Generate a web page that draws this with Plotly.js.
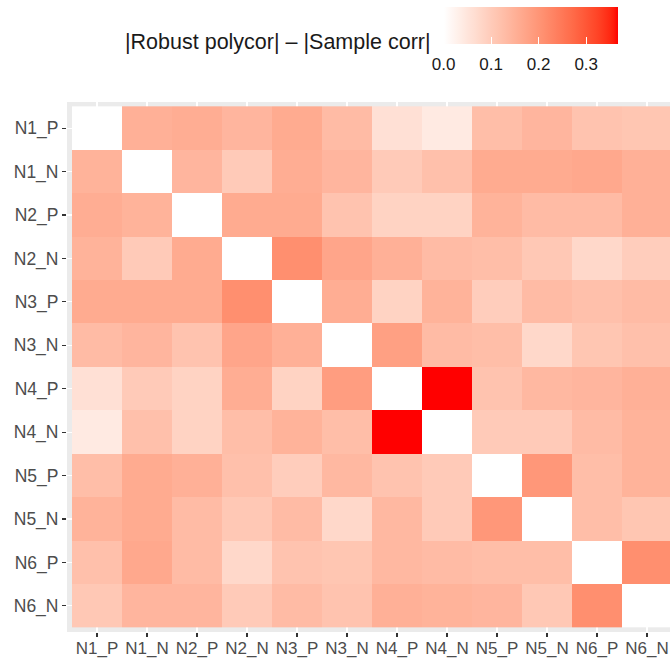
<!DOCTYPE html>
<html>
<head>
<meta charset="utf-8">
<script src="https://cdn.plot.ly/plotly-3.0.1.min.js"></script>
<style>html,body{margin:0;padding:0;background:#fff;}</style>
</head>
<body>
<div id="chart" style="width:670px;height:660px;"></div>
<script>
const labels = ["N1_P","N1_N","N2_P","N2_N","N3_P","N3_N","N4_P","N4_N","N5_P","N5_N","N6_P","N6_N"];
const colorbarTicks = [0.0, 0.1, 0.2, 0.3];
const colorbarTickText = ["0.0", "0.1", "0.2", "0.3"];
const legendTitle = "|Robust polycor| \u2013 |Sample corr|";

const rowN1_P = [0, .15, .155, .14, .16, .13, .06, .04, .125, .14, .115, .11];
const rowN1_N = [.145, 0, .14, .10, .155, .14, .10, .12, .16, .16, .165, .15];
const rowN2_P = [.155, .145, 0, .16, .16, .115, .085, .085, .145, .13, .13, .15];
const rowN2_N = [.145, .10, .16, 0, .21, .17, .15, .13, .125, .105, .075, .095];
const rowN3_P = [.16, .16, .16, .21, 0, .155, .085, .145, .095, .13, .12, .13];
const rowN3_N = [.13, .14, .115, .17, .15, 0, .18, .13, .125, .075, .11, .12];
const rowN4_P = [.06, .10, .085, .155, .085, .185, 0, .366, .115, .135, .14, .15];
const rowN4_N = [.04, .12, .085, .125, .145, .125, .366, 0, .10, .10, .13, .145];
const rowN5_P = [.125, .16, .15, .12, .095, .135, .115, .10, 0, .195, .125, .145];
const rowN5_N = [.145, .16, .13, .105, .13, .075, .135, .10, .195, 0, .125, .11];
const rowN6_P = [.12, .165, .13, .075, .115, .11, .135, .13, .125, .125, 0, .21];
const rowN6_N = [.105, .14, .14, .10, .13, .115, .15, .145, .14, .105, .21, 0];

const z = [rowN1_P,rowN1_N,rowN2_P,rowN2_N,rowN3_P,rowN3_N,rowN4_P,rowN4_N,rowN5_P,rowN5_N,rowN6_P,rowN6_N];
const zmax = Math.max(...z.map(r => Math.max(...r)));

// white -> red gradient interpolated in CIE Lab (like ggplot2 scale_fill_gradient)
function lab2rgb(L, a, b) {
  const fy = (L + 16) / 116, fx = fy + a / 500, fz = fy - b / 200;
  const finv = t => (t > 6/29 ? t*t*t : 3*(6/29)*(6/29)*(t - 4/29));
  const X = 0.95047 * finv(fx), Y = 1.0 * finv(fy), Zc = 1.08883 * finv(fz);
  let r = 3.2406*X - 1.5372*Y - 0.4986*Zc;
  let g = -0.9689*X + 1.8758*Y + 0.0415*Zc;
  let bl = 0.0557*X - 0.2040*Y + 1.0570*Zc;
  const gam = c => { c = Math.max(0, Math.min(1, c)); return c <= 0.0031308 ? 12.92*c : 1.055*Math.pow(c, 1/2.4) - 0.055; };
  return [gam(r), gam(g), gam(bl)].map(c => Math.round(c*255));
}
const low = [100, 0, 0], high = [53.24, 80.09, 67.20];
const colorscale = [];
for (let i = 0; i <= 40; i++) {
  const t = i / 40;
  const rgb = lab2rgb(low[0] + (high[0]-low[0])*t, low[1] + (high[1]-low[1])*t, low[2] + (high[2]-low[2])*t);
  colorscale.push([t, `rgb(${rgb[0]},${rgb[1]},${rgb[2]})`]);
}

const W = 670, H = 660;
const mL = 67, mR = 0, mT = 102, mB = 28;
const pw = W - mL - mR, ph = H - mT - mB;
const FONT = 'Liberation Sans, Arial, sans-serif';

const cbBase = {
  orientation: 'h',
  thickness: 37, thicknessmode: 'pixels',
  len: 174, lenmode: 'pixels',
  x: (443.6 - mL) / pw, xanchor: 'left',
  y: (mT + ph - 6.5) / ph, yanchor: 'top',
  xpad: 0, ypad: 0,
  outlinewidth: 0,
  tickmode: 'array', tickvals: colorbarTicks, ticktext: colorbarTickText,
  tickfont: {family: FONT, size: 17, color: '#1A1A1A'}
};

// main heatmap; its colorbar carries the labels (white outside ticks act as spacing)
const trace = {
  type: 'heatmap',
  x: labels, y: labels, z: z,
  zmin: 0, zmax: zmax,
  colorscale: colorscale,
  colorbar: Object.assign({}, cbBase, {ticks: 'outside', ticklen: 6, tickcolor: '#ffffff', tickwidth: 1})
};
// same data, invisible, only to draw the white inside tick marks on the colour bar
const tickTrace = {
  type: 'heatmap',
  x: labels, y: labels, z: z,
  zmin: 0, zmax: zmax,
  colorscale: colorscale,
  opacity: 0,
  colorbar: Object.assign({}, cbBase, {ticks: 'inside', ticklen: 7, tickcolor: '#ffffff', tickwidth: 1, showticklabels: false})
};

const layout = {
  width: W, height: H,
  margin: {l: mL, r: mR, t: mT, b: mB, pad: 0},
  paper_bgcolor: '#ffffff',
  plot_bgcolor: '#EBEBEB',
  font: {family: FONT},
  xaxis: {
    type: 'category', categoryorder: 'array', categoryarray: labels,
    range: [-0.6, 11.46],
    showgrid: true, gridcolor: '#ffffff', gridwidth: 1.1,
    zeroline: false, showline: false,
    ticks: 'outside', ticklen: 4, tickcolor: '#333333', tickwidth: 1.1,
    ticklabelstandoff: -3,
    tickfont: {size: 17, color: '#4D4D4D'}, tickangle: 0
  },
  yaxis: {
    type: 'category', categoryorder: 'array', categoryarray: labels,
    range: [11.6, -0.6],
    showgrid: true, gridcolor: '#ffffff', gridwidth: 1.1,
    zeroline: false, showline: false,
    ticks: 'outside', ticklen: 4, tickcolor: '#333333', tickwidth: 1.1,
    tickfont: {size: 17.5, color: '#4D4D4D'}
  },
  annotations: [{
    text: legendTitle, showarrow: false,
    xref: 'paper', yref: 'paper',
    x: (433 - mL) / pw, xanchor: 'right',
    y: (mT + ph - 42) / ph, yanchor: 'middle',
    font: {size: 21.5, color: '#1A1A1A'}
  }]
};

Plotly.newPlot('chart', [trace, tickTrace], layout, {displayModeBar: false, staticPlot: true});
</script>
</body>
</html>
